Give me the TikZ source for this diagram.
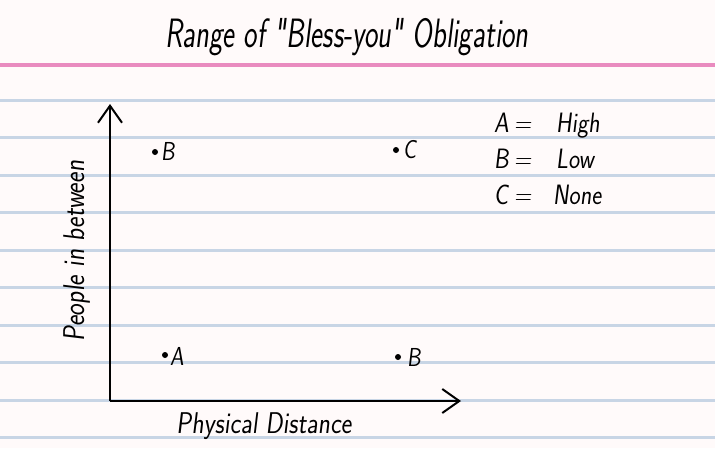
\documentclass[tikz,border=0pt]{standalone}
\usepackage{fontspec}
\newfontfamily\hand[FakeStretch=0.7,FakeSlant=0.12]{Latin Modern Sans}
\newfontfamily\handw[FakeStretch=0.85,FakeSlant=0.12]{Latin Modern Sans}
\usetikzlibrary{arrows.meta}
\definecolor{paper}{HTML}{FFFAFA}
\definecolor{ruleblue}{HTML}{C8D5E5}
\definecolor{rulepink}{HTML}{E98BBF}
\tikzset{
  bluerule/.style={draw=ruleblue,line width=3pt},
  pinkrule/.style={draw=rulepink,line width=4pt},
  axis/.style={draw=black,line width=2pt,-{Straight Barb[length=17pt,width=24pt,line width=2pt]}},
  txt/.style={font=\handw\fontsize{30}{32}\selectfont,inner sep=0pt},
  legtxt/.style={font=\handw\fontsize{28}{30}\selectfont,inner sep=0pt,anchor=base west},
  ptlabel/.style={font=\handw\fontsize{26}{28}\selectfont,inner sep=0pt,anchor=base west},
  dot/.style={circle,fill=black,inner sep=0pt,minimum size=6pt},
}
\begin{document}
\begin{tikzpicture}[x=1pt,y=-1pt]
\fill[paper] (0,0) rectangle (715,448);
\useasboundingbox (0,0) rectangle (715,448);
\draw[pinkrule] (0,65) -- (715,65);
\foreach \yy in {100,137.5,175,212.5,250,287.5,325,362.5,400,437.5}
  \draw[bluerule] (0,\yy) -- (715,\yy);
\node[inner sep=0pt,font=\hand\fontsize{41}{43}\selectfont,anchor=base] (title) at (347,47) {Range of "Bless-you" Obligation};
\coordinate (origin) at (110,401);
\coordinate (ytip) at (110,104);
\coordinate (xtip) at (461,401);
\draw[axis] (origin) -- (ytip);
\draw[axis] (origin) -- (xtip);
\node[txt,anchor=base] (xlabel) at (264,433) {Physical Distance};
\node[txt,rotate=90,anchor=base] (ylabel) at (84,251) {People in between};
\node[dot] (pB1) at (155,152) {};
\node[ptlabel] (lB1) at (161,160) {B};
\node[dot] (pC) at (396,150) {};
\node[ptlabel] (lC) at (403,158) {C};
\node[dot] (pA) at (165,355) {};
\node[ptlabel] (lA) at (170,365) {A};
\node[dot] (pB2) at (398,357) {};
\node[ptlabel] (lB2) at (407,366) {B};
\node[legtxt] (legA) at (494,132) {A};
\node[legtxt] (eqA) at (514,132) {=};
\node[legtxt] (legAv) at (556,132) {High};
\node[legtxt] (legB) at (494,168) {B};
\node[legtxt] (eqB) at (514,168) {=};
\node[legtxt] (legBv) at (556,168) {Low};
\node[legtxt] (legC) at (494,204) {C};
\node[legtxt] (eqC) at (514,204) {=};
\node[legtxt] (legCv) at (553,204) {None};
\end{tikzpicture}
\end{document}
